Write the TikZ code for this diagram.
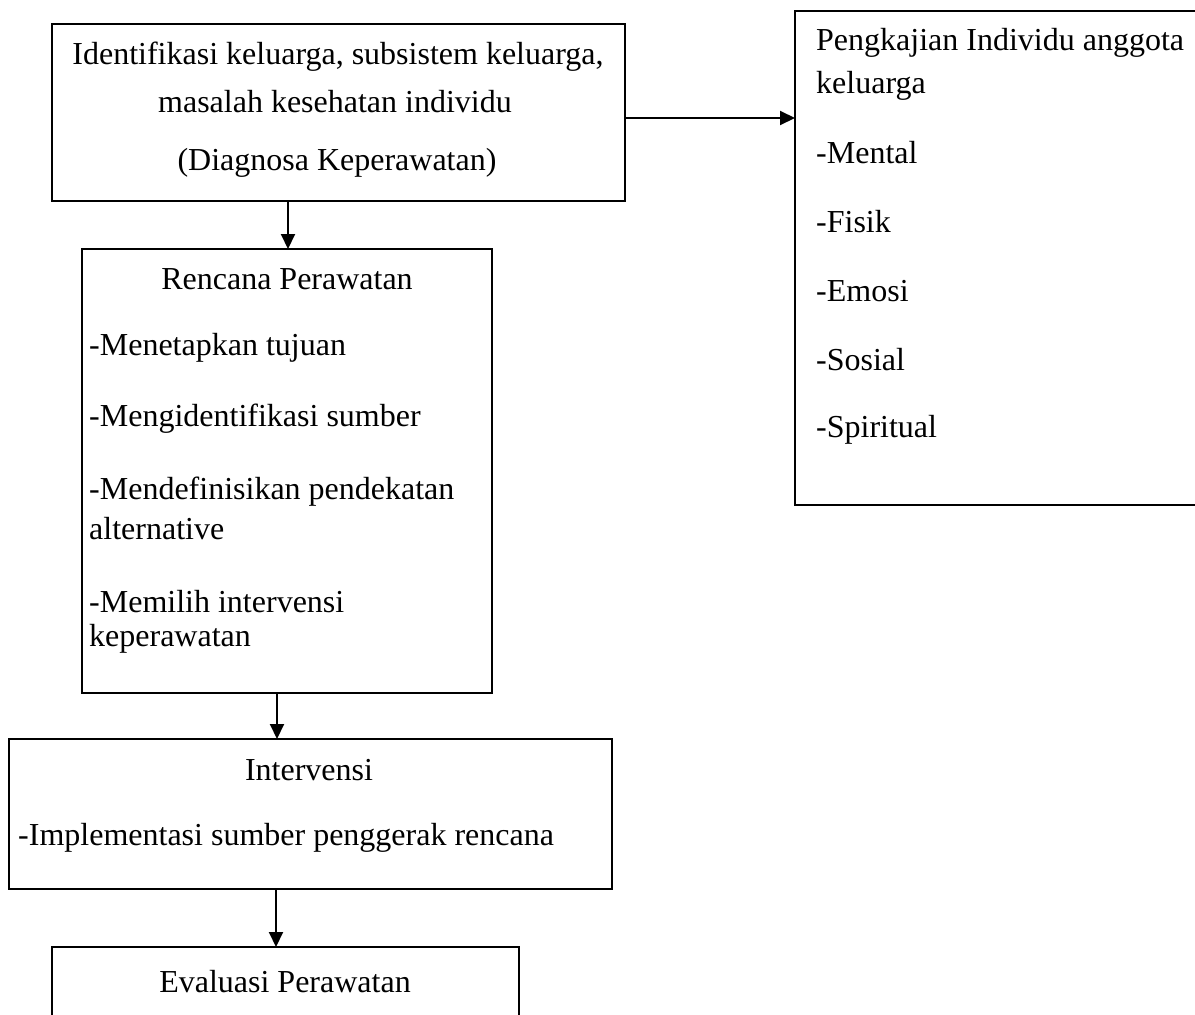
\documentclass[tikz,border=0pt]{standalone}
\usepackage{fontspec}
\setmainfont{Liberation Serif}
\usetikzlibrary{arrows.meta}
\begin{document}
\begin{tikzpicture}[x=1pt,y=-1pt,
  boxline/.style={draw=black,line width=1.6pt},
  conn/.style={line width=2pt,-{Triangle[length=15pt,width=14pt]}},
  txt/.style={inner sep=0pt,font=\fontsize{32}{36}\selectfont},
  txtl/.style={txt,anchor=west},
]
\useasboundingbox (0,0) rectangle (1195,1015);
\clip (0,0) rectangle (1195,1015);
% boxes
\draw[boxline] (52,24) rectangle (625,201);
\draw[boxline] (795,11) rectangle (1215,505);
\draw[boxline] (82,249) rectangle (492,693);
\draw[boxline] (9,739) rectangle (612,889);
\draw[boxline] (52,947) rectangle (519,1040);
% anchors
\coordinate (b1e) at (625,118);
\coordinate (b2w) at (795,118);
\coordinate (b1s) at (288,201);
\coordinate (b3n) at (288,249);
\coordinate (b3s) at (277,693);
\coordinate (b4n) at (277,739);
\coordinate (b4s) at (276,889);
\coordinate (b5n) at (276,947);
% box 1 text
\node[txt] (t1a) at (338,57) {Identifikasi keluarga, subsistem keluarga,};
\node[txt] (t1b) at (335,102) {masalah kesehatan individu};
\node[txt] (t1c) at (337,163) {(Diagnosa Keperawatan)};
% right box text
\node[txtl] (t2a) at (816,43) {Pengkajian Individu anggota};
\node[txtl] (t2b) at (816,86) {keluarga};
\node[txtl] (t2c) at (816,153) {-Mental};
\node[txtl] (t2d) at (816,222) {-Fisik};
\node[txtl] (t2e) at (816,291) {-Emosi};
\node[txtl] (t2f) at (816,360) {-Sosial};
\node[txtl] (t2g) at (816,430) {-Spiritual};
% box 3 text
\node[txt] (t3a) at (287,279) {Rencana Perawatan};
\node[txtl] (t3b) at (89,348) {-Menetapkan tujuan};
\node[txtl] (t3c) at (89,419) {-Mengidentifikasi sumber};
\node[txtl] (t3d) at (89,492) {-Mendefinisikan pendekatan};
\node[txtl] (t3e) at (89,529) {alternative};
\node[txtl] (t3f) at (89,602) {-Memilih intervensi};
\node[txtl] (t3g) at (89,639) {keperawatan};
% box 4 text
\node[txt] (t4a) at (309,770) {Intervensi};
\node[txtl] (t4b) at (18,838) {-Implementasi sumber penggerak rencana};
% box 5 text
\node[txt] (t5a) at (285,982) {Evaluasi Perawatan};
% connectors
\draw[conn] (b1e) -- (b2w);
\draw[conn] (b1s) -- (b3n);
\draw[conn] (b3s) -- (b4n);
\draw[conn] (b4s) -- (b5n);
\end{tikzpicture}
\end{document}
